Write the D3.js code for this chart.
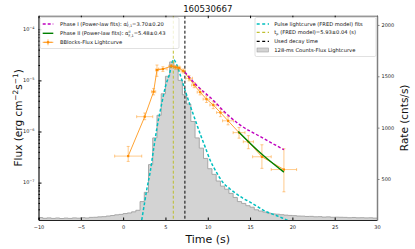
<!DOCTYPE html>
<html>
<head>
<meta charset="utf-8">
<script src="https://cdn.jsdelivr.net/npm/d3@7"></script>
<style>
body { margin: 0; background: #fff; }
text { font-family: 'DejaVu Sans', sans-serif; }
</style>
</head>
<body>
<div id="chart"></div>
<script>
// ---- data ----
var title = '160530667';
var xTicks = [-10, -5, 0, 5, 10, 15, 20, 25, 30];
var fluxTicks = [-7, -6, -5, -4];           // exponents of 10
var rateTicks = [500, 1000, 1500, 2000];

// 128-ms counts lightcurve, re-read in 0.5 s bins starting at -10 s
var histStart = -10, histStep = 0.5;
var histRate = [
  124, 117, 121, 116, 120, 115, 119, 116, 121, 118,
  123, 120, 126, 127, 131, 133, 139, 144, 151, 155,
  163, 169, 180, 195, 280, 370, 640, 900, 1120, 1330,
  1500, 1640, 1590, 1460, 1320, 1230, 1060, 900, 800, 700,
  600, 545, 480, 430, 400, 360, 320, 280, 262, 240,
  225, 200, 188, 178, 167, 160, 157, 152, 148, 145,
  143, 139, 138, 135, 136, 132, 133, 129, 131, 127,
  128, 127, 126, 123, 125, 122, 123, 121, 122, 119
];

// FRED pulse model (counts rate)
var fredT =    [2.2, 2.5, 2.8, 3.2, 3.6, 4.0, 4.5, 5.0, 5.5, 5.75, 5.93, 6.3, 6.8, 7.3, 7.9, 8.5, 9.1, 9.7, 10.3, 11.0, 11.8, 12.6, 13.4, 14.2, 15.0, 15.8, 16.6, 17.4, 18.1, 18.8, 19.5];
var fredRate = [100, 250, 400, 570, 790, 1000, 1210, 1400, 1530, 1620, 1665, 1620, 1500, 1370, 1220, 1080, 940, 810, 680, 570, 465, 405, 355, 310, 275, 235, 195, 165, 145, 120, 95];

// BBlocks flux lightcurve
var bbT    = [0.6, 2.55, 3.6, 4.0, 4.7, 5.7, 6.2, 6.6, 7.1, 7.8, 8.4, 9.1, 9.85, 10.65, 11.5, 12.4, 13.7, 14.8, 16.4, 19.0];
var bbTerr = [1.6, 0.95, 0.25, 0.15, 0.5, 0.3, 0.2, 0.2, 0.25, 0.4, 0.3, 0.35, 0.4, 0.4, 0.45, 0.65, 0.7, 0.6, 1.1, 1.5];
var bbFlux = [3.3e-7, 1.95e-6, 6.0e-6, 1.6e-5, 1.67e-5, 1.9e-5, 1.8e-5, 1.75e-5, 1.53e-5, 1.1e-5, 8.1e-6, 5.9e-6, 4.3e-6, 3.3e-6, 2.35e-6, 1.62e-6, 9.5e-7, 6.3e-7, 3.2e-7, 1.8e-7];
var bbLo   = [2.6e-7, 1.7e-6, 5.2e-6, 1.2e-5, 1.5e-5, 1.75e-5, 1.65e-5, 1.6e-5, 1.4e-5, 9.8e-6, 7.2e-6, 5.2e-6, 3.7e-6, 2.8e-6, 1.95e-6, 1.35e-6, 7.4e-7, 4.6e-7, 1.9e-7, 6.6e-8];
var bbHi   = [5.1e-7, 2.3e-6, 6.9e-6, 2.0e-5, 1.85e-5, 2.05e-5, 1.95e-5, 1.9e-5, 1.67e-5, 1.23e-5, 9.1e-6, 6.7e-6, 5.0e-6, 3.9e-6, 2.8e-6, 1.95e-6, 1.2e-6, 8.3e-7, 5.5e-7, 4.6e-7];

// power-law fits
var phase1T = [7.3, 8.5, 10.7, 12, 13.8, 16, 19];
var phase1Flux = [1.45e-5, 8.6e-6, 4.0e-6, 2.4e-6, 1.35e-6, 8.3e-7, 4.4e-7];
var phase2T = [13.6, 16.3, 19];
var phase2Flux = [1.0e-6, 3.7e-7, 1.6e-7];

var tPeak = 5.93, tDecay = 7.3;

// ---- layout ----
var W = 415, H = 249;
var L = 38.5, R = 377, T = 15.7, B = 220;
var cOrange = '#ff8c00', cCyan = '#00bfbf', cMag = '#bf00bf', cYel = '#bfbf30', cGreen = '#008000';

var svg = d3.select('#chart').append('svg').attr('width', W).attr('height', H);

var x = d3.scaleLinear().domain([-10, 30]).range([L, R]);
var yF = d3.scaleLog().domain([Math.pow(10, -7.732), Math.pow(10, -3.734)]).range([B, T]);
var yR = d3.scaleLinear().domain([100.5, 2090]).range([B, T]);

svg.append('defs').append('clipPath').attr('id', 'clip')
  .append('rect').attr('x', L).attr('y', T).attr('width', R - L).attr('height', B - T);

var plot = svg.append('g').attr('clip-path', 'url(#clip)');

// histogram
var hist = histRate.map((r, i) => ({ t: histStart + i * histStep, r: r }));
hist.push({ t: histStart + histRate.length * histStep, r: histRate[histRate.length - 1] });

plot.append('path').datum(hist)
  .attr('d', d3.area().curve(d3.curveStepAfter).x(d => x(d.t)).y0(B).y1(d => yR(d.r)))
  .attr('fill', '#d3d3d3');
plot.append('path').datum(hist)
  .attr('d', d3.line().curve(d3.curveStepAfter).x(d => x(d.t)).y(d => yR(d.r)))
  .attr('fill', 'none').attr('stroke', '#a0a0a0').attr('stroke-width', 0.9);

// FRED fit
plot.append('path').datum(fredT.map((t, i) => [t, fredRate[i]]))
  .attr('d', d3.line().curve(d3.curveMonotoneX).x(d => x(d[0])).y(d => yR(d[1])))
  .attr('fill', 'none').attr('stroke', cCyan).attr('stroke-width', 1.5).attr('stroke-dasharray', '3,2');

// vertical lines
plot.append('line').attr('x1', x(tPeak)).attr('x2', x(tPeak)).attr('y1', T).attr('y2', B)
  .attr('stroke', cYel).attr('stroke-width', 1).attr('stroke-dasharray', '3,2');
plot.append('line').attr('x1', x(tDecay)).attr('x2', x(tDecay)).attr('y1', T).attr('y2', B)
  .attr('stroke', '#000').attr('stroke-width', 1).attr('stroke-dasharray', '3,2');

// BBlocks with error bars
var bb = bbT.map((t, i) => ({ t: t, te: bbTerr[i], f: bbFlux[i], lo: bbLo[i], hi: bbHi[i] }));
var eb = plot.append('g').attr('stroke', cOrange).attr('stroke-opacity', 0.45).attr('stroke-width', 1);
bb.forEach(d => {
  eb.append('line').attr('x1', x(d.t - d.te)).attr('x2', x(d.t + d.te)).attr('y1', yF(d.f)).attr('y2', yF(d.f));
  eb.append('line').attr('x1', x(d.t)).attr('x2', x(d.t)).attr('y1', yF(d.lo)).attr('y2', yF(d.hi));
  [d.t - d.te, d.t + d.te].forEach(tt => eb.append('line').attr('x1', x(tt)).attr('x2', x(tt)).attr('y1', yF(d.f) - 1.5).attr('y2', yF(d.f) + 1.5));
  [d.lo, d.hi].forEach(ff => eb.append('line').attr('x1', x(d.t) - 1.5).attr('x2', x(d.t) + 1.5).attr('y1', yF(ff)).attr('y2', yF(ff)));
});
plot.append('path').datum(bb)
  .attr('d', d3.line().x(d => x(d.t)).y(d => yF(d.f)))
  .attr('fill', 'none').attr('stroke', cOrange).attr('stroke-width', 0.8);
plot.selectAll('rect.bbm').data(bb).enter().append('rect').attr('class', 'bbm')
  .attr('x', d => x(d.t) - 1.1).attr('y', d => yF(d.f) - 1.1).attr('width', 2.2).attr('height', 2.2)
  .attr('fill', cOrange);

// power-law fits
plot.append('path').datum(phase1T.map((t, i) => [t, phase1Flux[i]]))
  .attr('d', d3.line().curve(d3.curveMonotoneX).x(d => x(d[0])).y(d => yF(d[1])))
  .attr('fill', 'none').attr('stroke', cMag).attr('stroke-width', 1.4).attr('stroke-dasharray', '3,2');
plot.append('path').datum(phase2T.map((t, i) => [t, phase2Flux[i]]))
  .attr('d', d3.line().curve(d3.curveMonotoneX).x(d => x(d[0])).y(d => yF(d[1])))
  .attr('fill', 'none').attr('stroke', cGreen).attr('stroke-width', 1.4);

// ---- axes ----
var fs = 5;
var axB = svg.append('g').attr('transform', 'translate(0,' + B + ')')
  .call(d3.axisBottom(x).tickValues(xTicks).tickSizeInner(-2.5).tickSizeOuter(0).tickPadding(5)
    .tickFormat(d => d < 0 ? '\u2212' + Math.abs(d) : d));
var axT = svg.append('g').attr('transform', 'translate(0,' + T + ')')
  .call(d3.axisTop(x).tickValues(xTicks).tickSizeInner(-2.5).tickSizeOuter(0).tickFormat(''));

var minor = [];
for (var e = -8; e <= -4; e++) for (var m = 2; m <= 9; m++) {
  var v = m * Math.pow(10, e);
  if (v > yF.domain()[0] && v < yF.domain()[1]) minor.push(v);
}
var axL = svg.append('g').attr('transform', 'translate(' + L + ',0)')
  .call(d3.axisLeft(yF).tickValues(fluxTicks.map(p => Math.pow(10, p))).tickSizeInner(-3).tickSizeOuter(0).tickFormat(''));
svg.append('g').attr('transform', 'translate(' + L + ',0)')
  .call(d3.axisLeft(yF).tickValues(minor).tickSizeInner(-1.5).tickSizeOuter(0).tickFormat(''))
  .select('.domain').remove();
var axRt = svg.append('g').attr('transform', 'translate(' + R + ',0)')
  .call(d3.axisRight(yR).tickValues(rateTicks).tickSize(2.5).tickSizeOuter(0).tickPadding(2)
    .tickFormat(d3.format('d')));

[axB, axT, axL, axRt].forEach(a => {
  a.selectAll('text').attr('font-size', fs).attr('font-family', 'DejaVu Sans').attr('fill', '#222');
});
axB.select('.domain').attr('stroke', '#222').attr('stroke-width', 1.2);
axT.select('.domain').attr('stroke', '#444').attr('stroke-width', 0.8);
axL.select('.domain').attr('stroke', '#111').attr('stroke-width', 1.2);
axRt.select('.domain').attr('stroke', '#808080').attr('stroke-width', 1.5);
axRt.selectAll('.tick line').attr('stroke', '#808080');

// log tick labels
fluxTicks.forEach(p => {
  var t = svg.append('text').attr('x', L - 4).attr('y', yF(Math.pow(10, p)) + 1.8)
    .attr('text-anchor', 'end').attr('font-size', fs).attr('fill', '#222');
  t.append('tspan').text('10');
  t.append('tspan').attr('font-size', 3.5).attr('dy', -2.2).text('\u2212' + Math.abs(p));
});

// titles
svg.append('text').attr('x', (L + R) / 2).attr('y', 12).attr('text-anchor', 'middle')
  .attr('font-size', 8.6).attr('fill', '#111').text(title);
svg.append('text').attr('x', (L + R) / 2).attr('y', 243).attr('text-anchor', 'middle')
  .attr('font-size', 11).attr('fill', '#111').text('Time (s)');
var fl = svg.append('text').attr('transform', 'translate(22,' + (T + B) / 2 + ') rotate(-90)')
  .attr('text-anchor', 'middle').attr('font-size', 10.5).attr('fill', '#111');
fl.append('tspan').text('Flux (erg cm');
fl.append('tspan').attr('font-size', 7.4).attr('dy', -4).text('\u22122');
fl.append('tspan').attr('dy', 4).text('s');
fl.append('tspan').attr('font-size', 7.4).attr('dy', -4).text('\u22121');
fl.append('tspan').attr('dy', 4).text(')');
svg.append('text').attr('transform', 'translate(408,' + (T + B) / 2 + ') rotate(-90)')
  .attr('text-anchor', 'middle').attr('font-size', 10.5).attr('fill', '#111').text('Rate (cnts/s)');

// ---- legends ----
var lfs = 5.2;
var lg1 = svg.append('g');
lg1.append('rect').attr('x', 40).attr('y', 17.5).attr('width', 139).attr('height', 31).attr('rx', 1.5)
  .attr('fill', '#fff').attr('fill-opacity', 0.8).attr('stroke', '#ccc').attr('stroke-width', 0.6);
var r1 = [24, 33.3, 42.3];
lg1.append('line').attr('x1', 42.7).attr('x2', 53.3).attr('y1', r1[0]).attr('y2', r1[0])
  .attr('stroke', cMag).attr('stroke-width', 1.4).attr('stroke-dasharray', '3,2');
lg1.append('line').attr('x1', 42.7).attr('x2', 53.3).attr('y1', r1[1]).attr('y2', r1[1])
  .attr('stroke', cGreen).attr('stroke-width', 1.4);
lg1.append('line').attr('x1', 42.7).attr('x2', 53.3).attr('y1', r1[2]).attr('y2', r1[2])
  .attr('stroke', cOrange).attr('stroke-width', 0.8);
lg1.append('line').attr('x1', 44).attr('x2', 52).attr('y1', r1[2]).attr('y2', r1[2])
  .attr('stroke', cOrange).attr('stroke-opacity', 0.45).attr('stroke-width', 1.2);
lg1.append('line').attr('x1', 48).attr('x2', 48).attr('y1', r1[2] - 3).attr('y2', r1[2] + 3)
  .attr('stroke', cOrange).attr('stroke-opacity', 0.6).attr('stroke-width', 1);
lg1.append('rect').attr('x', 46.9).attr('y', r1[2] - 1.1).attr('width', 2.2).attr('height', 2.2).attr('fill', cOrange);

function alphaLabel(g, y, lead, sup, val) {
  var t = g.append('text').attr('x', 60).attr('y', y + 1.8).attr('font-size', lfs).attr('fill', '#111');
  t.append('tspan').text(lead + '\u03b1');
  var s = t.append('tspan').attr('font-size', 3.4).attr('dy', -2.2).text(sup);
  var w = s.node().getComputedTextLength();
  t.append('tspan').attr('font-size', 3.4).attr('dx', -w).attr('dy', 3.6).text('F,1');
  t.append('tspan').attr('dy', -1.4).text('=' + val);
}
alphaLabel(lg1, r1[0], 'Phase I (Power-law fits): ', 'I', '3.70\u00b10.20');
alphaLabel(lg1, r1[1], 'Phase II (Power-law fits): ', 'II', '5.48\u00b10.43');
lg1.append('text').attr('x', 60).attr('y', r1[2] + 1.8).attr('font-size', lfs).attr('fill', '#111')
  .text('BBlocks-Flux Lightcurve');

var lg2 = svg.append('g');
lg2.append('rect').attr('x', 255).attr('y', 17.5).attr('width', 121).attr('height', 39).attr('rx', 1.5)
  .attr('fill', '#fff').attr('fill-opacity', 0.8).attr('stroke', '#ccc').attr('stroke-width', 0.6);
var r2 = [24, 32.3, 41.3, 50];
[[cCyan, 1.5], [cYel, 1], ['#000', 1]].forEach((c, i) => {
  lg2.append('line').attr('x1', 256.7).attr('x2', 269).attr('y1', r2[i]).attr('y2', r2[i])
    .attr('stroke', c[0]).attr('stroke-width', c[1] + 0.2).attr('stroke-dasharray', '3,2.5');
});
lg2.append('rect').attr('x', 257).attr('y', r2[3] - 2).attr('width', 11.5).attr('height', 4)
  .attr('fill', '#d3d3d3').attr('stroke', '#a0a0a0').attr('stroke-width', 0.6);
lg2.append('text').attr('x', 274.3).attr('y', r2[0] + 1.8).attr('font-size', lfs).attr('fill', '#111')
  .text('Pulse lightcurve (FRED model) fits');
var tp = lg2.append('text').attr('x', 274.3).attr('y', r2[1] + 1.8).attr('font-size', lfs).attr('fill', '#111');
tp.append('tspan').text('t');
tp.append('tspan').attr('font-size', 3.4).attr('dy', 1.2).text('p');
tp.append('tspan').attr('dy', -1.2).text(' (FRED model)=5.93\u00b10.04 (s)');
lg2.append('text').attr('x', 274.3).attr('y', r2[2] + 1.8).attr('font-size', lfs).attr('fill', '#111')
  .text('Used decay time');
lg2.append('text').attr('x', 274.3).attr('y', r2[3] + 1.8).attr('font-size', lfs).attr('fill', '#111')
  .text('128-ms Counts-Flux Lightcurve');
</script>
</body>
</html>
